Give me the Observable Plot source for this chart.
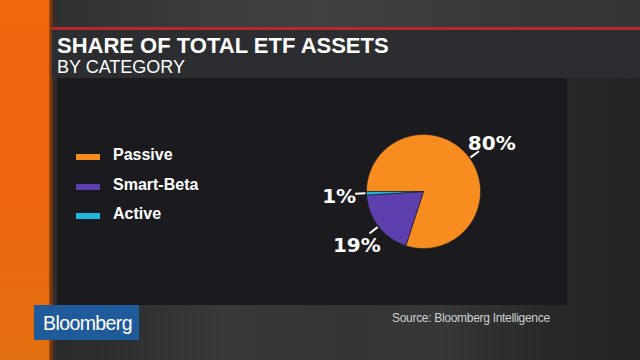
<!DOCTYPE html>
<html><head><meta charset="utf-8">
<script src="https://cdn.jsdelivr.net/npm/d3@7"></script>
<script src="https://cdn.jsdelivr.net/npm/@observablehq/plot@0.6"></script>
<style>
body{margin:0;background:#000;}
#frame{position:relative;width:640px;height:360px;overflow:hidden;
 background:linear-gradient(90deg,#262729 0%,#2c2d2f 15%,#38393a 35%,#333435 55%,#363738 68%,#28292a 85%,#232425 100%);
 font-family:"Liberation Sans",Arial,sans-serif;}
.abs{position:absolute;}
#top{left:0;top:0;width:640px;height:27px;background:linear-gradient(90deg,#2a2b2d 0%,#3a3b3d 30%,#404142 50%,#38393b 75%,#333436 100%);}
#orange{left:0;top:0;width:49px;height:360px;background:linear-gradient(180deg,#f2660c 0%,#ef650b 50%,#e2700e 100%);}
#shadow{left:49px;top:0;width:8px;height:360px;background:linear-gradient(90deg,#a8470a 0%,#3a2a20 60%,rgba(40,40,42,0) 100%);}
#red{left:52px;top:27px;width:588px;height:3px;background:#b7272c;}
#tpanel{left:52px;top:30px;width:588px;height:48px;background:#2c2d31;}
#title{left:57px;top:33px;color:#fff;font-weight:bold;font-size:22px;letter-spacing:0px;white-space:nowrap;}
#sub{left:57px;top:57px;color:#fff;font-size:18px;letter-spacing:0px;white-space:nowrap;}
#cpanel{left:57px;top:78px;width:510px;height:227px;background:#1b1b1f;}
#legend{left:76px;top:0;}
.item{position:absolute;left:0;white-space:nowrap;}
.sw{position:absolute;left:0;width:24px;height:6px;}
.lt{position:absolute;left:37px;color:#fff;font-weight:bold;font-size:16px;}
#logo{left:34px;top:305px;width:105px;height:35px;background:#1f5a9b;}
#logotxt{left:43px;top:312px;color:#fff;font-size:19.5px;letter-spacing:-0.6px;}
#source{left:392px;top:311px;color:#d0d0d0;font-size:12px;letter-spacing:-0.3px;white-space:nowrap;}
</style></head>
<body>
<div id="frame">
 <div id="top" class="abs"></div>
 <div id="orange" class="abs"></div>
 <div id="shadow" class="abs"></div>
 <div id="red" class="abs"></div>
 <div id="tpanel" class="abs"></div>
 <div id="title" class="abs">SHARE OF TOTAL ETF ASSETS</div>
 <div id="sub" class="abs">BY CATEGORY</div>
 <div id="cpanel" class="abs"></div>
 <div id="legend" class="abs"></div>
 <div id="logo" class="abs"></div>
 <div id="logotxt" class="abs">Bloomberg</div>
 <div id="source" class="abs">Source: Bloomberg Intelligence</div>
</div>
<script>
const categories = ["Passive", "Smart-Beta", "Active"];
const shares = [80, 19, 1];
const shareLabels = ["80%", "19%", "1%"];
const colors = ["#f88d1f", "#5d3fad", "#1fb5dc"];

// legend
const legend = document.getElementById("legend");
const legendTops = [154, 184, 213];
categories.forEach((c, i) => {
  const it = document.createElement("div");
  it.className = "item";
  it.style.top = legendTops[i] + "px";
  it.innerHTML = `<div class="sw" style="top:0;background:${colors[i]}"></div><div class="lt" style="top:-8px">${c}</div>`;
  legend.appendChild(it);
});

// pie geometry (layout)
const W = 510, H = 227, cx = 366, cy = 113, R = 57;
const total = d3.sum(shares);
let acc = 0;
const slices = categories.map((c, i) => {
  const a0 = -90 + acc / total * 360;
  acc += shares[i];
  const a1 = -90 + acc / total * 360;
  return {c, a0, a1, mid: (a0 + a1) / 2, label: shareLabels[i]};
});
const rad = Math.PI / 180;
const pts = slices.flatMap(s => {
  const n = Math.max(2, Math.ceil(s.a1 - s.a0));
  const arr = [{c: s.c, px: 0, py: 0}];
  for (let k = 0; k <= n; k++) {
    const a = (s.a0 + (s.a1 - s.a0) * k / n) * rad;
    arr.push({c: s.c, px: Math.sin(a), py: Math.cos(a)});
  }
  arr.push({c: s.c, px: 0, py: 0});
  return arr;
});
const leaders = slices.map(s => ({
  x1: 1.02 * Math.sin(s.mid * rad), y1: 1.02 * Math.cos(s.mid * rad),
  x2: 1.2 * Math.sin(s.mid * rad), y2: 1.2 * Math.cos(s.mid * rad)
}));
const texts = slices.map(s => ({
  tx: 1.48 * Math.sin(s.mid * rad), ty: 1.48 * Math.cos(s.mid * rad), label: s.label
}));

const chart = Plot.plot({
  width: W, height: H,
  marginTop: 0, marginRight: 0, marginBottom: 0, marginLeft: 0,
  x: {domain: [-cx / R, (W - cx) / R], range: [0, W], axis: null},
  y: {domain: [-(H - cy) / R, cy / R], range: [H, 0], axis: null},
  color: {domain: categories, range: colors},
  style: {background: "transparent", overflow: "visible"},
  marks: [
    Plot.line(pts, {x: "px", y: "py", z: "c", fill: "c", stroke: "#1b1b1f", strokeWidth: 0.6, curve: "linear"}),
    Plot.link(leaders, {x1: "x1", y1: "y1", x2: "x2", y2: "y2", stroke: "#fff", strokeWidth: 2}),
    Plot.text(texts, {x: "tx", y: "ty", text: "label", fill: "#fff", fontSize: 20, fontWeight: "bold", fontFamily: "DejaVu Sans", textAnchor: "middle", dy: 2})
  ]
});
const cp = document.getElementById("cpanel");
chart.style.position = "absolute";
chart.style.left = "0"; chart.style.top = "0";
cp.appendChild(chart);
</script>
</body></html>
